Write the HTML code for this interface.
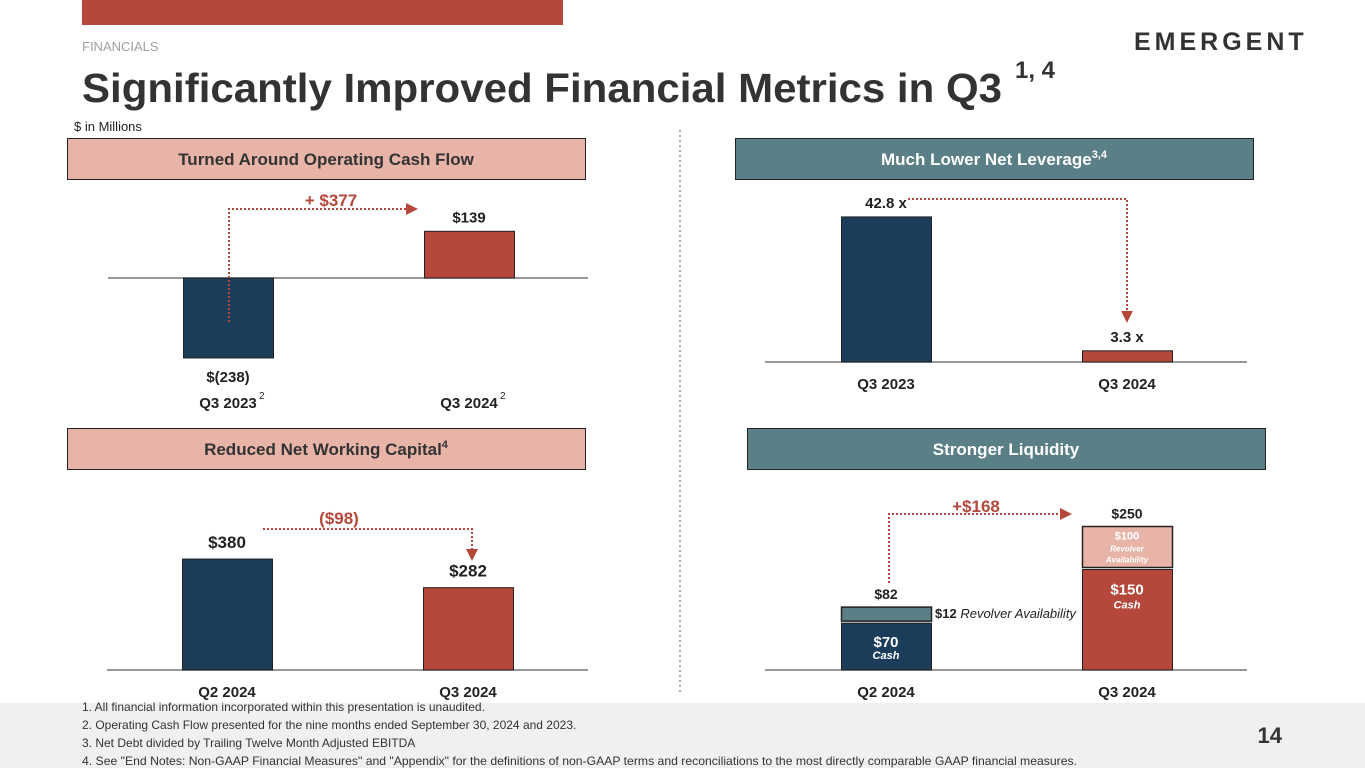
<!DOCTYPE html>
<html><head><meta charset="utf-8">
<style>
body{margin:0;width:1365px;height:768px;overflow:hidden;background:#fff;font-family:"Liberation Sans",sans-serif;}
svg{display:block}
text{font-family:"Liberation Sans",sans-serif}
</style></head>
<body>
<svg id="s" width="1365" height="768" viewBox="0 0 1365 768">
<rect x="0" y="703" width="1365" height="65" fill="#f0f0f0"/>
<rect x="82" y="0" width="481" height="25" fill="#b5483a"/>
<text x="82" y="51" font-size="13" fill="#a0a0a0">FINANCIALS</text>
<text x="82" y="102" font-size="41" font-weight="bold" fill="#333"><tspan textLength="920" lengthAdjust="spacingAndGlyphs">Significantly Improved Financial Metrics in Q3</tspan><tspan x="1015" font-size="24" dy="-24">1, 4</tspan></text>
<text x="1134" y="50" font-size="25" font-weight="bold" fill="#333" letter-spacing="4">EMERGENT</text>
<text x="74" y="131" font-size="13" fill="#222">$ in Millions</text>
<line x1="680" y1="130" x2="680" y2="692" stroke="#555" stroke-dasharray="2,3"/>

<g><rect x="67.5" y="138.5" width="518" height="41" fill="#e8b4a8" stroke="#222"/><text x="326" y="165" font-size="17" font-weight="bold" fill="#333" text-anchor="middle">Turned Around Operating Cash Flow</text></g>
<g><rect x="735.5" y="138.5" width="518" height="41" fill="#5b7f86" stroke="#222"/><text x="994" y="165" font-size="17" font-weight="bold" fill="#fff" text-anchor="middle">Much Lower Net Leverage<tspan font-size="11" dy="-7">3,4</tspan></text></g>
<g><rect x="67.5" y="428.5" width="518" height="41" fill="#e8b4a8" stroke="#222"/><text x="326" y="455" font-size="17" font-weight="bold" fill="#333" text-anchor="middle">Reduced Net Working Capital<tspan font-size="11" dy="-7">4</tspan></text></g>
<g><rect x="747.5" y="428.5" width="518" height="41" fill="#5b7f86" stroke="#222"/><text x="1006" y="455" font-size="17" font-weight="bold" fill="#fff" text-anchor="middle">Stronger Liquidity</text></g>

<g font-size="12" fill="#333">
<text x="82" y="711">1. All financial information incorporated within this presentation is unaudited.</text>
<text x="82" y="729">2. Operating Cash Flow presented for the nine months ended September 30, 2024 and 2023.</text>
<text x="82" y="747">3. Net Debt divided by Trailing Twelve Month Adjusted EBITDA</text>
<text x="82" y="765" textLength="995" lengthAdjust="spacingAndGlyphs">4. See "End Notes: Non-GAAP Financial Measures" and "Appendix" for the definitions of non-GAAP terms and reconciliations to the most directly comparable GAAP financial measures.</text>
</g>
<text x="1282" y="743" font-size="22" font-weight="bold" fill="#333" text-anchor="end">14</text>
<defs><marker id="ar" markerUnits="userSpaceOnUse" markerWidth="12" markerHeight="12" refX="2" refY="6" orient="auto"><path d="M0,0 L12,6 L0,12z" fill="#b5483a"/></marker></defs>
</svg>
<script>
const ocfCats=["Q3 2023","Q3 2024"];
const ocfVals=[-238,139];
const ocfLabels=["$(238)","$139"];
const levCats=["Q3 2023","Q3 2024"];
const levVals=[42.8,3.3];
const levLabels=["42.8 x","3.3 x"];
const nwcCats=["Q2 2024","Q3 2024"];
const nwcVals=[380,282];
const nwcLabels=["$380","$282"];
const liqCats=["Q2 2024","Q3 2024"];
const liqCash=[70,150];
const liqRevolver=[12,100];

const S=document.getElementById('s');
const NS='http://www.w3.org/2000/svg';
function el(t,a,txt){const e=document.createElementNS(NS,t);for(const k in a)e.setAttribute(k,a[k]);if(txt!==undefined)e.textContent=txt;S.appendChild(e);return e;}
const navy="#1b3d5a",red="#b5483a",pink="#e8b4a8",teal="#5b7f86";

// OCF
const ocfX=[183,424],ocfBase=278,ocfK=0.336;
const oy=v=>ocfBase-v*ocfK;
let l=el('line',{x1:108,y1:ocfBase,x2:588,y2:ocfBase,stroke:'#777','stroke-width':1.5});


ocfVals.forEach((v,i)=>{
 const r=el('rect',{x:ocfX[i]+0.5,y:Math.min(oy(v),ocfBase),width:90,height:Math.abs(v*ocfK),fill:v<0?navy:red,stroke:'#222'});
 
 
 const ly=v<0?oy(v)+24:oy(v)-9;
 const t=el('text',{x:ocfX[i]+45,y:ly,'font-size':15,'font-weight':'bold','text-anchor':'middle',fill:'#222'},ocfLabels[i]);
 
 
 const c=el('text',{x:ocfX[i]+45,y:408,'font-size':15,'font-weight':'bold','text-anchor':'middle',fill:'#222'},ocfCats[i]);
 
 
 const sup=el('text',{x:ocfX[i]+76,y:399,'font-size':10,fill:'#222'},'2');
 
 
});
let p=el('polyline',{points:`229,322 229,209 408,209`,fill:'none',stroke:red,'stroke-width':2,'stroke-dasharray':'2,2','marker-end':'url(#ar)'});


let t=el('text',{x:331,y:206,'font-size':17,'font-weight':'bold','text-anchor':'middle',fill:red},'+ $'+(ocfVals[1]-ocfVals[0]));



// Leverage
const levX=[841,1082],levBase=362,levK=3.39;
const ly2=v=>levBase-v*levK;
l=el('line',{x1:765,y1:levBase,x2:1247,y2:levBase,stroke:'#777','stroke-width':1.5});


levVals.forEach((v,i)=>{
 const r=el('rect',{x:levX[i]+0.5,y:ly2(v),width:90,height:v*levK,fill:i?red:navy,stroke:'#222'});
 
 
 const tx=el('text',{x:levX[i]+45,y:ly2(v)-9,'font-size':15,'font-weight':'bold','text-anchor':'middle',fill:'#222'},levLabels[i]);
 
 
 const c=el('text',{x:levX[i]+45,y:389,'font-size':15,'font-weight':'bold','text-anchor':'middle',fill:'#222'},levCats[i]);
 
 
});
p=el('polyline',{points:`908,199 1127,199 1127,${ly2(levVals[1])-38}`,fill:'none',stroke:red,'stroke-width':2,'stroke-dasharray':'2,2','marker-end':'url(#ar)'});



// NWC
const nwcX=[182,423],nwcBase=670,nwcK=0.292;
const ny=v=>nwcBase-v*nwcK;
l=el('line',{x1:107,y1:nwcBase,x2:588,y2:nwcBase,stroke:'#777','stroke-width':1.5});


nwcVals.forEach((v,i)=>{
 const r=el('rect',{x:nwcX[i]+0.5,y:ny(v),width:90,height:v*nwcK,fill:i?red:navy,stroke:'#222'});
 
 
 const tx=el('text',{x:nwcX[i]+45,y:ny(v)-11,'font-size':17,'font-weight':'bold','text-anchor':'middle',fill:'#222'},nwcLabels[i]);
 
 
 const c=el('text',{x:nwcX[i]+45,y:697,'font-size':15,'font-weight':'bold','text-anchor':'middle',fill:'#222'},nwcCats[i]);
 
 
});
p=el('polyline',{points:`263,529 472,529 472,551`,fill:'none',stroke:red,'stroke-width':2,'stroke-dasharray':'2,2','marker-end':'url(#ar)'});


t=el('text',{x:339,y:524,'font-size':17,'font-weight':'bold','text-anchor':'middle',fill:red},'($'+(nwcVals[0]-nwcVals[1])+')');



// Liquidity
const liqX=[841,1082],liqBase=670,cashK=0.67,revK=0.41;
const cashH=v=>v*cashK, revH=v=>Math.max(14,v*revK);
l=el('line',{x1:765,y1:liqBase,x2:1247,y2:liqBase,stroke:'#777','stroke-width':1.5});


liqCash.forEach((v,i)=>{
 const ch=cashH(v), cy=liqBase-ch;
 const r=el('rect',{x:liqX[i]+0.5,y:cy,width:90,height:ch,fill:i?red:navy,stroke:'#222'});
 
 
 const rh=revH(liqRevolver[i]), ry=cy-2-rh;
 const r2=el('rect',{x:liqX[i]+0.5,y:ry,width:90,height:rh,fill:i?pink:teal,stroke:'#222','stroke-width':1.5});
 
 
 const a=el('text',{x:liqX[i]+45,y:cy+(i?25:24),'font-size':15,'font-weight':'bold','text-anchor':'middle',fill:'#fff'},'$'+v);
 
 
 const b=el('text',{x:liqX[i]+45,y:cy+(i?39:36),'font-size':11,'font-weight':'bold','font-style':'italic','text-anchor':'middle',fill:'#fff'},'Cash');
 
 
 const tot=el('text',{x:liqX[i]+45,y:ry-8,'font-size':14,'font-weight':'bold','text-anchor':'middle',fill:'#222'},'$'+(v+liqRevolver[i]));
 
 
 const c=el('text',{x:liqX[i]+45,y:697,'font-size':15,'font-weight':'bold','text-anchor':'middle',fill:'#222'},liqCats[i]);
 
 
 if(i===0){
  const rv=el('text',{x:935,y:ry+11,'font-size':13,fill:'#222'});
  rv.innerHTML='<tspan font-weight="bold">$'+liqRevolver[i]+'</tspan> <tspan font-style="italic">Revolver Availability</tspan>';
  
  
 } else {
  const a2=el('text',{x:liqX[i]+45,y:ry+13,'font-size':11,'font-weight':'bold','text-anchor':'middle',fill:'#fff'},'$'+liqRevolver[i]);
  
  
  const b2=el('text',{x:liqX[i]+45,y:ry+25,'font-size':8,'font-weight':'bold','font-style':'italic','text-anchor':'middle',fill:'#fff'},'Revolver');
  
  
  const b3=el('text',{x:liqX[i]+45,y:ry+36,'font-size':8,'font-weight':'bold','font-style':'italic','text-anchor':'middle',fill:'#fff'},'Availability');
  
  
 }
});
p=el('polyline',{points:`889,583 889,514 1062,514`,fill:'none',stroke:red,'stroke-width':2,'stroke-dasharray':'2,2','marker-end':'url(#ar)'});


t=el('text',{x:976,y:512,'font-size':17,'font-weight':'bold','text-anchor':'middle',fill:red},'+$'+((liqCash[1]+liqRevolver[1])-(liqCash[0]+liqRevolver[0])));


</script>
</body></html>
